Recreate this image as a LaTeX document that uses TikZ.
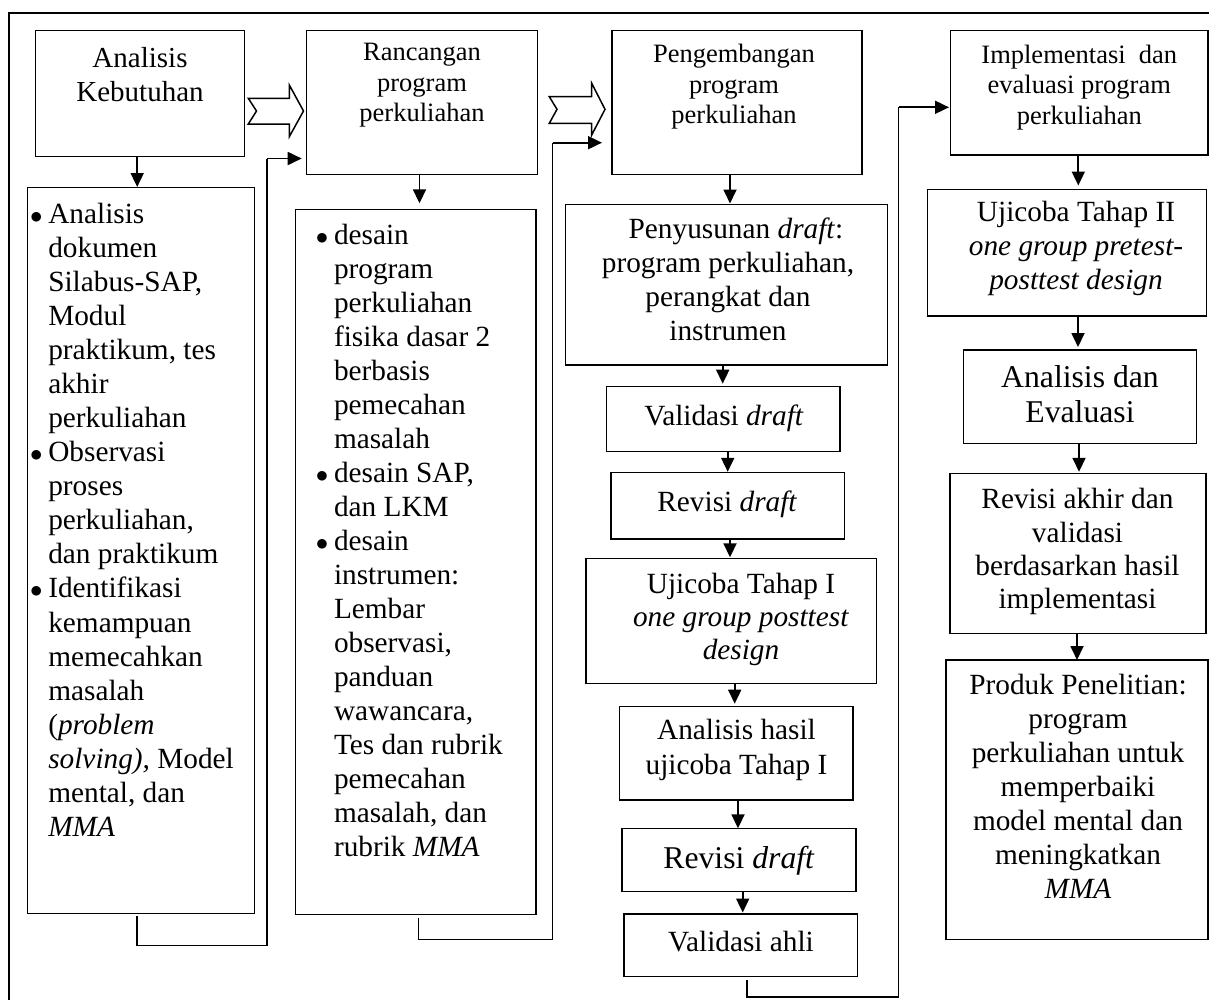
\documentclass[tikz,border=0pt]{standalone}
\usepackage{fontspec}
\setmainfont{Liberation Serif}
\usetikzlibrary{arrows.meta,calc}
\newcommand{\lbul}{\llap{$\bullet$\hspace{5.7pt}}}
\begin{document}
\begin{tikzpicture}[x=1pt,y=-1pt,
  box/.style={draw, line width=1.5pt, inner sep=0pt, outer sep=0pt},
  txt/.style={inner sep=0pt, outer sep=0pt, align=center, font=\fontsize{29.3}{34}\selectfont, execute at begin node=\strut},
  toptxt/.style={txt, font=\fontsize{26.5}{30.5}\selectfont},
  bigtxt/.style={txt, font=\fontsize{31.7}{35}\selectfont},
  listtxt/.style={txt, align=left, anchor=north west},
  arr/.style={line width=1.8pt, -{Triangle[length=14pt,width=13pt]}},
  conn/.style={line width=1.6pt},
  blockarrow/.style={draw, line width=1.5pt, fill=white, line join=miter},
  frame/.style={draw, line width=1.8pt}]
\useasboundingbox (0,0) rectangle (1209,999);
% outer frame (only top and left visible)
\draw[frame] (9.3,1010) -- (9.3,13.3) -- (1220,13.3);

% top row boxes
\node[box, minimum width=208.7pt, minimum height=126pt] (A) at (139.95,93.7) {};
\node[box, minimum width=231pt, minimum height=143.6pt] (R) at (422.2,102.5) {};
\node[box, minimum width=250pt, minimum height=143.9pt] (P) at (737,102.65) {};
\node[box, minimum width=257.5pt, minimum height=124.3pt] (I) at (1079.25,92.85) {};

\node[txt, anchor=north, font=\fontsize{29}{34}\selectfont] (tA) at (140,47.2) {Analisis\\Kebutuhan};
\node[toptxt, anchor=north] (tR) at (422,43.3) {Rancangan\\program\\perkuliahan};
\node[toptxt, anchor=north] (tP) at (734,44.6) {Pengembangan\\program\\perkuliahan};
\node[toptxt, anchor=north] (tI) at (1079.3,45) {Implementasi\ \ dan\\evaluasi program\\perkuliahan};

% block arrows
\draw[blockarrow] (248.3,98.3) -- (289.3,98.3) -- (289.3,85) -- (303.5,111) -- (289.3,136.7) -- (289.3,124) -- (248.3,124) -- (256.5,111) -- cycle;
\draw[blockarrow] (549.3,96.7) -- (591.7,96.7) -- (591.7,83.3) -- (605,109.3) -- (591.7,135) -- (591.7,123.3) -- (549.3,123.3) -- (557,109.3) -- cycle;

% column 1 list
\node[box, minimum width=227.4pt, minimum height=725.8pt] (AL) at (141,550.4) {};
\node[listtxt, font=\fontsize{29.3}{34.07}\selectfont] (tAL) at (48.3,202.85) {%
\lbul Analisis\\
dokumen\\
Silabus-SAP,\\
Modul\\
praktikum, tes\\
akhir\\
perkuliahan\\
\lbul Observasi\\
proses\\
perkuliahan,\\
dan praktikum\\
\lbul Identifikasi\\
kemampuan\\
memecahkan\\
masalah\\
(\textit{problem}\\
\textit{solving),} Model\\
mental, dan\\
\textit{MMA}};

% column 2 list
\node[box, minimum width=240.3pt, minimum height=705.4pt] (RL) at (415.65,562) {};
\node[listtxt] (tRL) at (334,224.5) {%
\lbul desain\\
program\\
perkuliahan\\
fisika dasar 2\\
berbasis\\
pemecahan\\
masalah\\
\lbul desain SAP,\\
dan LKM\\
\lbul desain\\
instrumen:\\
Lembar\\
observasi,\\
panduan\\
wawancara,\\
Tes dan rubrik\\
pemecahan\\
masalah, dan\\
rubrik \textit{MMA}};

% column 3
\node[box, minimum width=322.2pt, minimum height=160.5pt] (S) at (726.6,284.75) {};
\node[txt, anchor=north, font=\fontsize{29.3}{33.9}\selectfont] (tS) at (728,218) {\hspace*{16pt}Penyusunan \textit{draft}:\\program perkuliahan,\\perangkat dan\\instrumen};
\node[box, minimum width=233.3pt, minimum height=65pt] (V) at (723.35,419.2) {};
\node[txt, anchor=base] (tV) at (724,425) {Validasi \textit{draft}};
\node[box, minimum width=233.3pt, minimum height=66.7pt] (RD1) at (727.65,505.65) {};
\node[txt, anchor=base] (tRD1) at (727.3,511.7) {Revisi \textit{draft}};
\node[box, minimum width=290.7pt, minimum height=125pt] (U1) at (731.35,620.8) {};
\node[txt, anchor=north, font=\fontsize{29.3}{33}\selectfont] (tU1) at (741,572.9) {Ujicoba Tahap I\\\textit{one group posttest}\\\textit{design}};
\node[box, minimum width=233.5pt, minimum height=93.3pt] (AH) at (736.25,753.35) {};
\node[txt, anchor=north, font=\fontsize{29.3}{34.8}\selectfont] (tAH) at (736.5,719.1) {Analisis hasil\\ujicoba Tahap I};
\node[box, minimum width=234pt, minimum height=63.4pt] (RD2) at (739,860) {};
\node[bigtxt, anchor=base] (tRD2) at (739,868.3) {Revisi \textit{draft}};
\node[box, minimum width=233.5pt, minimum height=62.5pt] (VA) at (740.75,945.25) {};
\node[txt, anchor=base] (tVA) at (741,951.7) {Validasi ahli};

% column 4
\node[box, minimum width=279.2pt, minimum height=126.5pt] (U2) at (1067.1,252.75) {};
\node[txt, anchor=north, font=\fontsize{29.3}{34.2}\selectfont] (tU2) at (1076,201.1) {Ujicoba Tahap II\\\textit{one group pretest-}\\\textit{posttest design}};
\node[box, minimum width=233.4pt, minimum height=93.3pt] (AE) at (1080,396.65) {};
\node[bigtxt, anchor=north] (tAE) at (1080,365.5) {Analisis dan\\Evaluasi};
\node[box, minimum width=256pt, minimum height=160pt] (RA) at (1078,553.3) {};
\node[txt, anchor=north, font=\fontsize{29.3}{33.3}\selectfont] (tRA) at (1077.5,488.4) {Revisi akhir dan\\validasi\\berdasarkan hasil\\implementasi};
\node[box, minimum width=262pt, minimum height=279.5pt] (PR) at (1077,799.75) {};
\node[txt, anchor=north, font=\fontsize{29.3}{33.9}\selectfont] (tPR) at (1078,674.6) {Produk Penelitian:\\program\\perkuliahan untuk\\memperbaiki\\model mental dan\\meningkatkan\\\textit{MMA}};

% x positions of vertical arrows
\coordinate (xa) at (137.2,0);
\coordinate (xr) at (419.5,0);
\coordinate (xp) at (730,0);
\coordinate (xs) at (722.7,0);
\coordinate (xv) at (727.7,0);
\coordinate (xd1) at (730,0);
\coordinate (xu1) at (734.7,0);
\coordinate (xah) at (738,0);
\coordinate (xd2) at (742.7,0);
\coordinate (xi) at (1078.3,0);
\coordinate (xu2) at (1078,0);
\coordinate (xae) at (1079,0);
\coordinate (xra) at (1077,0);

\draw[arr, shorten >=0.5pt] (A.south -| xa) -- (AL.north -| xa);
\draw[arr, shorten >=6pt] (R.south -| xr) -- (RL.north -| xr);
\draw[arr, shorten >=1pt] (P.south -| xp) -- (S.north -| xp);
\draw[arr, shorten >=3pt] (S.south -| xs) -- (V.north -| xs);
\draw[arr, shorten >=0.5pt] (V.south -| xv) -- (RD1.north -| xv);
\draw[arr, shorten >=1pt] (RD1.south -| xd1) -- (U1.north -| xd1);
\draw[arr, shorten >=3pt] (U1.south -| xu1) -- (AH.north -| xu1);
\draw[arr] (AH.south -| xah) -- (RD2.north -| xah);
\draw[arr, shorten >=1.5pt] (RD2.south -| xd2) -- (VA.north -| xd2);
\draw[arr, shorten >=4pt] (I.south -| xi) -- (U2.north -| xi);
\draw[arr, shorten >=3pt] (U2.south -| xu2) -- (AE.north -| xu2);
\draw[arr, shorten >=1.5pt] (AE.south -| xae) -- (RA.north -| xae);
\draw[arr] (RA.south -| xra) -- (PR.north -| xra);

% feedback connectors between columns
\coordinate (ka) at (137.2,945.3);
\coordinate (kb) at (267,945.3);
\coordinate (kc) at (267,158.5);
\draw[conn, shorten <=3pt] (AL.south -| ka) -- (ka) -- (kb) -- (kc);
\draw[arr, shorten >=5pt] (kc) -- (kc -| R.west);

\coordinate (kd) at (418.3,939.3);
\coordinate (ke) at (552.5,939.3);
\coordinate (kf) at (552.5,142.7);
\draw[conn, shorten <=3pt] (RL.south -| kd) -- (kd) -- (ke) -- (kf);
\draw[arr, shorten >=10pt] (kf) -- (kf -| P.west);

\coordinate (kg) at (747,996.7);
\coordinate (kh) at (898.5,996.7);
\coordinate (ki) at (898.5,107.3);
\draw[conn, shorten <=3.5pt] (VA.south -| kg) -- (kg) -- (kh) -- (ki);
\draw[arr, shorten >=1.5pt] (ki) -- (ki -| I.west);
\end{tikzpicture}
\end{document}
